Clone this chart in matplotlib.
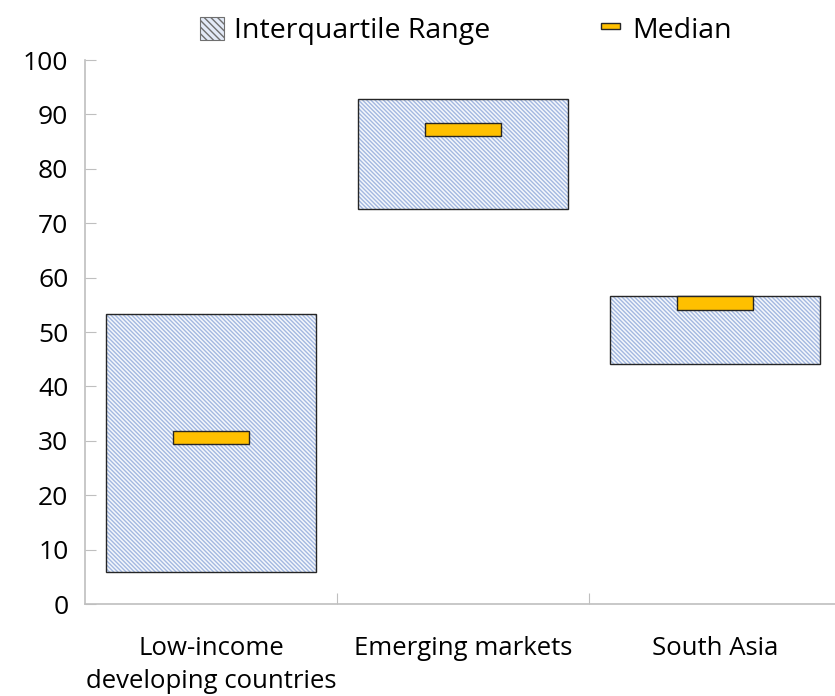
import numpy as np
import matplotlib
matplotlib.use("Agg")
from matplotlib import pyplot as plt
from matplotlib.patches import Patch, Rectangle
from matplotlib.legend_handler import HandlerPatch

categories = ["Low-income\ndeveloping countries", "Emerging markets", "South Asia"]
q1 = [5.9, 72.6, 44.1]
q3 = [53.3, 92.8, 56.6]
median = [30.6, 87.2, 55.3]

plt.rcParams['font.family'] = ['Open Sans', 'DejaVu Sans']
plt.rcParams['hatch.linewidth'] = 1.0

HATCH_COL = '#a3b8e0'
EDGE = '#262626'

fig = plt.figure(figsize=(8.35, 6.96), dpi=100)
ax = fig.add_axes([85/835, 92/696, 756/835, 544/696])

x = np.arange(len(categories))
iqr_h = np.array(q3) - np.array(q1)
# hatch takes the edge colour, so draw fill and outline separately
ax.bar(x, iqr_h, bottom=q1, width=0.83, facecolor='#f4f7fc',
       edgecolor=HATCH_COL, linewidth=0, hatch='\\' * 8, zorder=2)
ax.bar(x, iqr_h, bottom=q1, width=0.83, fill=False,
       edgecolor=EDGE, linewidth=1.0, zorder=2.5)
med_h = 2.5
ax.bar(x, med_h, bottom=np.array(median) - med_h/2, width=0.3,
       color='#ffc000', edgecolor=EDGE, linewidth=1.0, zorder=3)

ax.set_xlim(-0.5, 2.5)
ax.set_ylim(0, 100)
ax.set_yticks(range(0, 101, 10))
ax.set_xticks([0.5, 1.5])
ax.set_xticklabels([])
ax.set_xticks(x, minor=True)
ax.set_xticklabels(categories, minor=True, linespacing=1.45)
ax.tick_params(axis='x', which='minor', length=0, pad=23, labelsize=18.5)
ax.tick_params(axis='x', which='major', direction='in', length=8, color='#bfbfbf')
ax.tick_params(axis='y', direction='in', length=8, color='#bfbfbf', labelsize=19, pad=12)

for s in ['top', 'right']:
    ax.spines[s].set_visible(False)
for s in ['left', 'bottom']:
    ax.spines[s].set_color('#bfbfbf')
    ax.spines[s].set_linewidth(1.2)


def make_median_handle(legend, orig_handle, xdescent, ydescent, width, height, fontsize):
    return Rectangle((xdescent + width*0.1, ydescent + height*0.33), width*0.8, height*0.28,
                     facecolor='#ffc000', edgecolor=EDGE, linewidth=0.8)


iqr_handle = Patch(facecolor='none', edgecolor=EDGE, linewidth=0.8)
med_handle = Patch(facecolor='#ffc000', edgecolor=EDGE)
leg = fig.legend([iqr_handle, med_handle], ["Interquartile Range", "Median"],
                 loc='upper center', bbox_to_anchor=(0.558, 1.012), ncol=2, frameon=False,
                 fontsize=20.5, handlelength=0.85, handleheight=0.85, handletextpad=0.35,
                 columnspacing=3.8,
                 handler_map={med_handle: HandlerPatch(patch_func=make_median_handle)})
# hatch inside the iqr legend box
leg.legend_handles[0].set_hatch('\\' * 5)
leg.legend_handles[0].set_edgecolor('#6f6f6f')
leg.legend_handles[0].set_facecolor('#e3eaf7')

fig.savefig("out.png", dpi=100)
